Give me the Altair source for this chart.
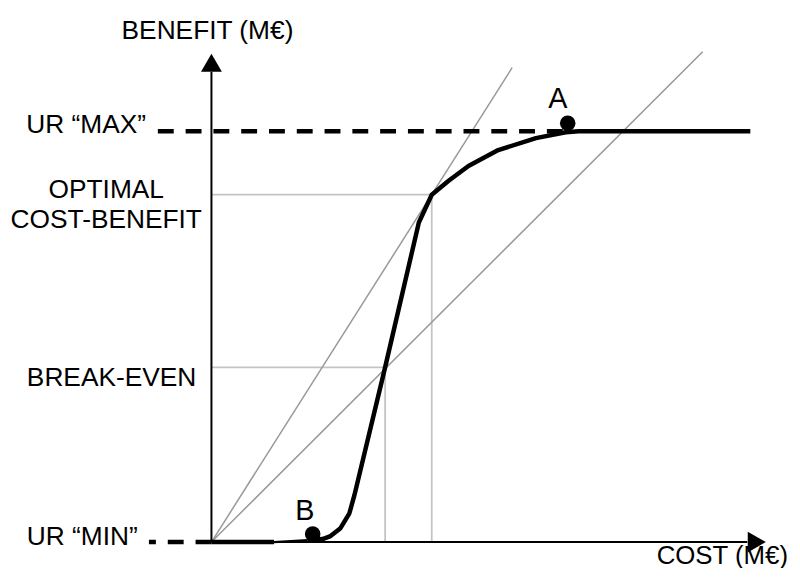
import altair as alt
import pandas as pd

# ---- data (abstract units; the original has no tick values) ----
# main curve split into parts (thick / thin / thick)
main1_cost = [0.0, 6.3]
main1_benefit = [0.0, 0.0]
thin_cost = [6.3, 8.0, 9.7]
thin_benefit = [0.0, 0.1, 0.2]
main2_cost = [9.7, 11.2, 12.0, 13.0, 13.9, 14.4, 17.5, 20.9, 22.2, 23.9, 25.9, 28.9, 32.7, 35.7, 37.0, 54.3]
main2_benefit = [0.2, 0.3, 0.6, 1.4, 2.9, 4.7, 17.6, 32.2, 35.0, 36.4, 37.9, 39.5, 40.7, 41.3, 41.4, 41.4]

ur_max = 41.4
ur_min = 0.0
ur_max_dash_from = -5.4
ur_max_dash_to = 35.7
ur_min_dash_to = -6.3

optimal_cost, optimal_benefit = 22.2, 35.0
breakeven_cost, breakeven_benefit = 17.5, 17.6

diag_cost = [30.3, 49.5]
diag_benefit = [47.8, 49.4]

point_names = ["A", "B"]
point_cost = [35.9, 10.2]
point_benefit = [42.2, 0.8]

x_axis_end, y_axis_end = 54.0, 47.4
x_arrow, y_arrow = 54.95, 48.3

XD = [-20.5, 58.5]
YD = [-2.4, 53.6]
W, H = 790, 560
FONT = "Liberation Sans"
FS = 26.5


def X(f):
    return alt.X(f"{f}:Q", scale=alt.Scale(domain=XD, nice=False, zero=False), axis=None)


def Y(f):
    return alt.Y(f"{f}:Q", scale=alt.Scale(domain=YD, nice=False, zero=False), axis=None)


# curve table
rows = []
for part, xs, ys, w in [("m1", main1_cost, main1_benefit, 4.5),
                        ("thin", thin_cost, thin_benefit, 2.2),
                        ("m2", main2_cost, main2_benefit, 4.5)]:
    for i, (a, b) in enumerate(zip(xs, ys)):
        rows.append({"cost": a, "benefit": b, "part": part, "w": w, "i": i})
curve_df = pd.DataFrame(rows)

curve = alt.Chart(curve_df).mark_line(color="black", strokeCap="butt", strokeJoin="round").encode(
    x=X("cost"), y=Y("benefit"), detail="part:N", order="i:Q",
    strokeWidth=alt.StrokeWidth("w:Q", scale=None),
)

# guide lines (light gray)
guides_df = pd.DataFrame({
    "x0": [0, optimal_cost, 0, breakeven_cost],
    "x1": [optimal_cost, optimal_cost, breakeven_cost, breakeven_cost],
    "y0": [optimal_benefit, 0, breakeven_benefit, 0],
    "y1": [optimal_benefit, optimal_benefit, breakeven_benefit, breakeven_benefit],
})
guides = alt.Chart(guides_df).mark_rule(color="#c4c4c4", strokeWidth=1.8).encode(
    x=X("x0"), x2="x1", y=Y("y0"), y2="y1")

# diagonal lines from origin
diag_df = pd.DataFrame({"x0": [0, 0], "y0": [0, 0], "x1": diag_cost, "y1": diag_benefit})
diags = alt.Chart(diag_df).mark_rule(color="#999999", strokeWidth=1.5).encode(
    x=X("x0"), x2="x1", y=Y("y0"), y2="y1")

# axes
axes_df = pd.DataFrame({"x0": [0, 0], "y0": [0, 0], "x1": [x_axis_end, 0], "y1": [0, y_axis_end]})
axes = alt.Chart(axes_df).mark_rule(color="black", strokeWidth=2).encode(
    x=X("x0"), x2="x1", y=Y("y0"), y2="y1")

arrow_up = alt.Chart(pd.DataFrame({"x": [0], "y": [y_arrow]})).mark_point(
    shape="triangle-up", size=441, filled=True, color="black", opacity=1).encode(x=X("x"), y=Y("y"))
arrow_right = alt.Chart(pd.DataFrame({"x": [x_arrow], "y": [0]})).mark_point(
    shape="triangle-right", size=441, filled=True, color="black", opacity=1).encode(x=X("x"), y=Y("y"))

# dashed UR lines
dash_df = pd.DataFrame({
    "x": [ur_max_dash_from, ur_max_dash_to, 0, ur_min_dash_to],
    "y": [ur_max, ur_max, ur_min, ur_min],
    "g": ["max", "max", "min", "min"],
    "i": [0, 1, 0, 1],
})
dashes = alt.Chart(dash_df).mark_line(color="black", strokeWidth=4.5, strokeDash=[16, 12], strokeCap="butt").encode(
    x=X("x"), y=Y("y"), detail="g:N", order="i:Q")

# points A and B
pts_df = pd.DataFrame({"name": point_names, "cost": point_cost, "benefit": point_benefit})
dots = alt.Chart(pts_df).mark_point(filled=True, color="black", size=245, opacity=1).encode(
    x=X("cost"), y=Y("benefit"))

# text labels
def text_layer(labels, xs, ys, align, size=FS):
    df = pd.DataFrame({"t": labels, "x": xs, "y": ys})
    return alt.Chart(df).mark_text(align=align, baseline="alphabetic", font=FONT, fontSize=size, color="black").encode(
        x=X("x"), y=Y("y"), text="t:N")

t_center = text_layer(["BENEFIT (M€)", "OPTIMAL", "COST-BENEFIT"], [-0.4, -10.6, -10.6], [50.7, 34.7, 31.6], "center")
t_right = text_layer(["UR “MAX”"], [-6.6], [41.2], "right")
t_left = text_layer(["BREAK-EVEN", "UR “MIN”"], [-18.6, -18.6], [15.7, -0.3], "left")
t_cost = text_layer(["COST (M€)"], [58.1], [-2.2], "right", size=26)
t_pts = text_layer(point_names, [34.9, 9.4], [43.7, 2.2], "center", size=29)

chart = alt.layer(guides, diags, axes, dashes, curve, dots, arrow_up, arrow_right,
                  t_center, t_right, t_left, t_cost, t_pts).properties(
    width=W, height=H, padding=0, autosize=alt.AutoSizeParams(type="none"),
    background="white",
).configure_view(stroke=None)

chart.save("out.html", embed_options={"renderer": "svg", "actions": False})
